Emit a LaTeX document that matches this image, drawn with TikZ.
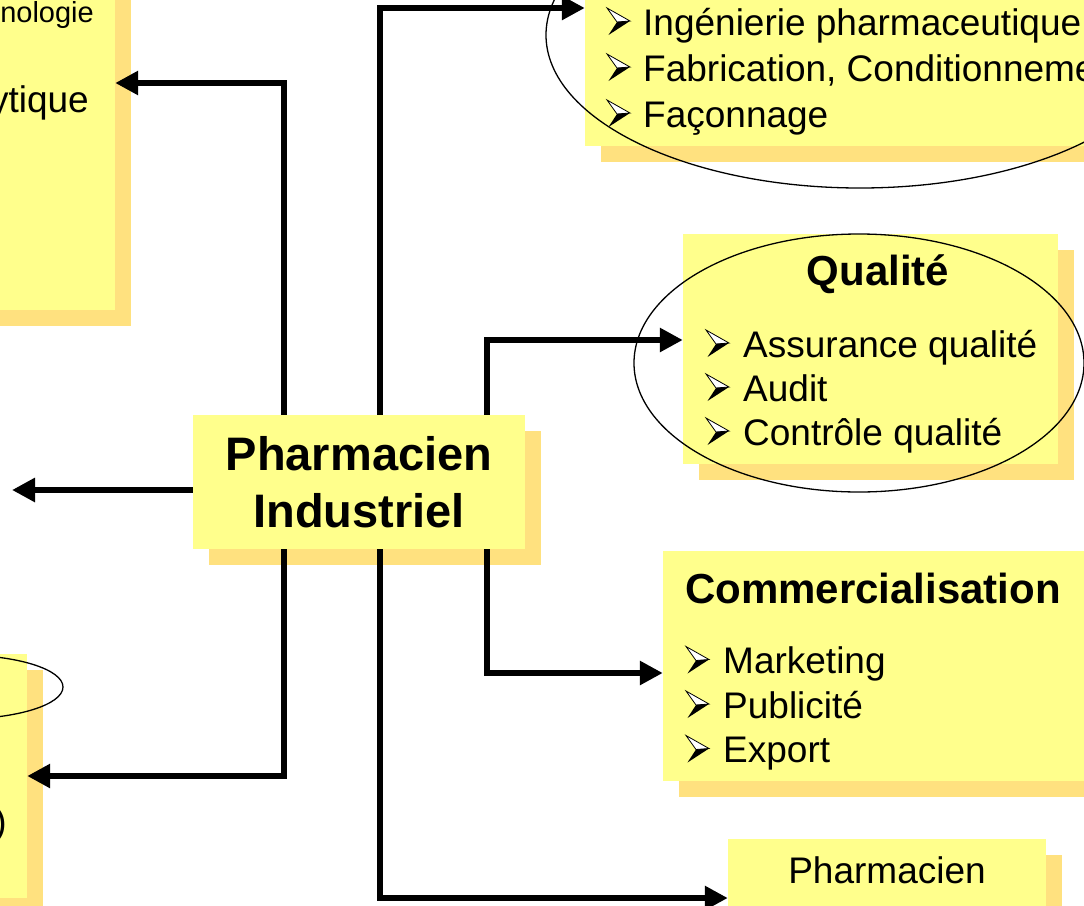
\documentclass[tikz,border=0pt]{standalone}
\usepackage{fontspec}
\setmainfont{Liberation Sans}
\usetikzlibrary{arrows.meta,shadows,positioning}

\definecolor{boxyellow}{HTML}{FFFF8C}
\definecolor{boxshadow}{HTML}{FFE17F}

\begin{document}
\begin{tikzpicture}[x=1pt,y=-1pt,>={Triangle[length=23pt,width=23pt]},
    box/.style={fill=boxyellow,inner sep=0pt,
      general shadow={fill=boxshadow,shadow xshift=16pt,shadow yshift=-16pt}},
    link/.style={->,line width=6.5pt},
    ring/.style={draw,line width=1.3pt},
    head/.style={font=\bfseries\fontsize{42}{50}\selectfont,anchor=base,inner sep=0pt},
    item/.style={font=\fontsize{37}{44}\selectfont,anchor=base west,inner sep=0pt},
    bul/.pic={
      \filldraw[fill=white,line width=0.8pt] (0,-27) -- (23,-14) -- (10,-13) -- cycle;
      \fill (10,-13) -- (23,-14) -- (1.5,0) -- cycle;}]
    \useasboundingbox (0,0) rectangle (1084,905);
    \clip (0,0) rectangle (1084,905);

    % boxes
    \node[box,minimum width=335pt,minimum height=454pt] (tl) at (-52.5,83) {};
    \node[box,minimum width=247pt,minimum height=244pt] (bl) at (-96.5,776) {};
    \node[box,minimum width=535pt,minimum height=276pt] (tr) at (852.5,8) {};
    \node[box,minimum width=375pt,minimum height=230pt] (qual) at (870.5,349) {};
    \node[box,minimum width=437pt,minimum height=230pt] (comm) at (881.5,666) {};
    \node[box,minimum width=318pt,minimum height=118pt] (br) at (887,898) {};
    \node[box,minimum width=332pt,minimum height=134pt,align=center,
          font=\bfseries\fontsize{47}{57}\selectfont] (pi) at (359,482) {Pharmacien\\Industriel};
    \coordinate (lft) at (12,490);

    % connectors
    \draw[link] ([xshift=-75pt]pi.north) |- (tl.east);
    \draw[link] ([yshift=-8pt]pi.west) -- (lft);
    \draw[link] ([xshift=-75pt]pi.south) |- (bl.east);
    \draw[link] ([xshift=21pt]pi.north) |- (tr.west);
    \draw[link] ([xshift=128pt]pi.north) |- ([yshift=9pt]qual.west);
    \draw[link] ([xshift=128pt]pi.south) |- ([yshift=-7pt]comm.west);
    \draw[link] ([xshift=21pt]pi.south) |- (br.west);

    % texts
    \node[font=\fontsize{29}{29}\selectfont,anchor=base east,inner sep=0pt] (tl-1) at (94,22) {nologie};
    \node[item,anchor=base east] (tl-2) at (89,112) {ytique};
    \node[item,anchor=base east] (bl-1) at (7,834) {)};
    \foreach \t [count=\i] in {Ingénierie pharmaceutique,{Fabrication, Conditionnement},Façonnage}{
      \pic at (607,-11+46*\i) {bul};
      \node[item] (tr-\i) at (643,-11+46*\i) {\t};}
    \node[head] (qual-t) at (878,285) {Qualité};
    \foreach \t [count=\i] in {Assurance qualité,Audit,Contrôle qualité}{
      \pic at (706,313+44*\i) {bul};
      \node[item] (qual-\i) at (743,313+44*\i) {\t};}
    \node[head] (comm-t) at (873,603) {Commercialisation};
    \foreach \t [count=\i] in {Marketing,Publicité,Export}{
      \pic at (686,629+44.5*\i) {bul};
      \node[item] (comm-\i) at (723,629+44.5*\i) {\t};}
    \node[item,anchor=base] (br-t) at (887,883) {Pharmacien};

    % ellipses
    \draw[ring] (860,35) ellipse [x radius=314pt,y radius=153pt];
    \draw[ring] (859,363) ellipse [x radius=225pt,y radius=129pt];
    \draw[ring] (-40,687) ellipse [x radius=103pt,y radius=32pt];
\end{tikzpicture}
\end{document}
